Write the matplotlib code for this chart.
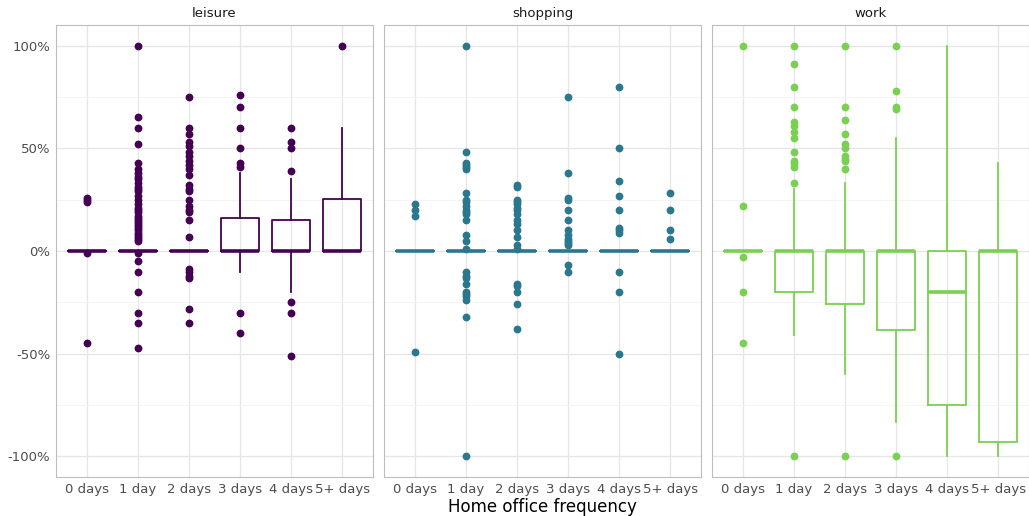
import matplotlib

matplotlib.use("Agg")

import matplotlib.pyplot as plt

categories = ["0 days", "1 day", "2 days", "3 days", "4 days", "5+ days"]
facets = ["leisure", "shopping", "work"]
colors = ["#440154", "#2A788E", "#7AD151"]

# box statistics per facet (percent): q1, median, q3, lower whisker, upper whisker
leisure_q1 = [0, 0, 0, 0, 0, 0]
leisure_med = [0, 0, 0, 0, 0, 0]
leisure_q3 = [0, 0, 0, 16, 15, 25.5]
leisure_lo = [0, 0, 0, -10, -20, 0]
leisure_hi = [0, 0, 0, 38, 35, 60]
leisure_out = [
    [26, 25, 24, -1, -45],
    [100, 65, 60, 52, 43, 40, 38, 36, 35, 33, 31, 30, 29, 27, 25, 23, 21, 20,
     19, 17, 16, 15, 14, 13, 12, 11, 10, 9, 8, 7, 6, 5, -1, -5, -10, -20, -30,
     -35, -47],
    [75, 60, 57, 53, 51, 48, 46, 44, 42, 40, 37, 32, 30, 29, 25, 22, 20, 19, 15,
     7, -9, -10, -12, -13, -28, -35],
    [76, 70, 60, 50, 43, 41, -30, -40],
    [60, 53, 50, 39, -25, -30, -51],
    [100],
]

shopping_q1 = [0, 0, 0, 0, 0, 0]
shopping_med = [0, 0, 0, 0, 0, 0]
shopping_q3 = [0, 0, 0, 0, 0, 0]
shopping_lo = [0, 0, 0, 0, 0, 0]
shopping_hi = [0, 0, 0, 0, 0, 0]
shopping_out = [
    [23, 20, 17, -49],
    [100, 48, 43, 42, 41, 40, 28, 25, 24, 22, 20, 19, 18, 15, 8, 5, 1, -10,
     -12, -13, -16, -20, -21, -22, -24, -32, -100],
    [32, 31, 25, 24, 23, 21, 20, 18, 15, 13, 10, 7, 3, 1, -16, -17, -20, -26,
     -38],
    [75, 38, 26, 25, 20, 15, 10, 8, 6, 5, 4, 3, -7, -10],
    [80, 50, 34, 27, 20, 11, 10, 9, -10, -20, -50],
    [28, 20, 10, 6],
]

work_q1 = [0, -20, -26, -38.5, -75, -93]
work_med = [0, 0, 0, 0, -20, 0]
work_q3 = [0, 0, 0, 0, 0, 0]
work_lo = [0, -41, -60, -83, -100, -100]
work_hi = [0, 30, 33, 55, 100, 43]
work_out = [
    [100, 22, -3, -20, -45],
    [100, 91, 80, 70, 63, 61, 58, 55, 48, 44, 43, 41, 33, -100],
    [100, 70, 64, 57, 52, 50, 46, 45, 44, 40, -100],
    [100, 78, 70, 69, -100],
    [],
    [],
]

facet_data = [
    (leisure_q1, leisure_med, leisure_q3, leisure_lo, leisure_hi, leisure_out),
    (shopping_q1, shopping_med, shopping_q3, shopping_lo, shopping_hi, shopping_out),
    (work_q1, work_med, work_q3, work_lo, work_hi, work_out),
]

plt.rcParams["font.family"] = ["DejaVu Sans"]

fig = plt.figure(figsize=(10.29, 5.16), dpi=100)
W, H = 1029, 516
panel_w = 317
lefts = [56, 384, 712]
top, bottom = 25, 477

positions = list(range(1, len(categories) + 1))

for i, (name, color, data) in enumerate(zip(facets, colors, facet_data)):
    ax = fig.add_axes([lefts[i] / W, 1 - bottom / H, panel_w / W, (bottom - top) / H])
    q1, med, q3, lo, hi, out = data
    stats = []
    for j in range(len(categories)):
        stats.append({
            "q1": q1[j], "med": med[j], "q3": q3[j],
            "whislo": lo[j], "whishi": hi[j], "fliers": out[j],
        })
    ax.bxp(
        stats,
        positions=positions,
        widths=0.75,
        showcaps=False,
        showfliers=True,
        patch_artist=False,
        boxprops=dict(color=color, linewidth=1.3),
        whiskerprops=dict(color=color, linewidth=1.3),
        medianprops=dict(color=color, linewidth=2.6, solid_capstyle="butt"),
        flierprops=dict(marker="o", markerfacecolor=color, markeredgecolor=color,
                        markersize=4.6, linestyle="none"),
    )

    ax.set_xlim(0.4, 6.6)
    ax.set_ylim(-110, 110)
    ax.set_xticks(positions)
    ax.set_xticklabels(categories)
    ax.set_yticks([-100, -50, 0, 50, 100])
    ax.set_yticks([-75, -25, 25, 75], minor=True)
    if i == 0:
        ax.set_yticklabels(["-100%", "-50%", "0%", "50%", "100%"])
    else:
        ax.set_yticklabels([])
    ax.tick_params(axis="both", which="both", length=0, labelsize=9.5,
                   labelcolor="#4D4D4D", pad=4)
    ax.grid(True, which="major", color="#E6E6E6", linewidth=0.9)
    ax.grid(True, which="minor", axis="y", color="#F3F3F3", linewidth=0.6)
    ax.set_axisbelow(True)
    for sp in ax.spines.values():
        sp.set_color("#BDBDBD")
        sp.set_linewidth(0.8)
    ax.set_title(name, fontsize=9.5, color="#1A1A1A", pad=6)
    if i == 1:
        ax.set_xlabel("Home office frequency", fontsize=12, color="#000000",
                      labelpad=2)

fig.savefig("out.png", dpi=100)
plt.close(fig)
